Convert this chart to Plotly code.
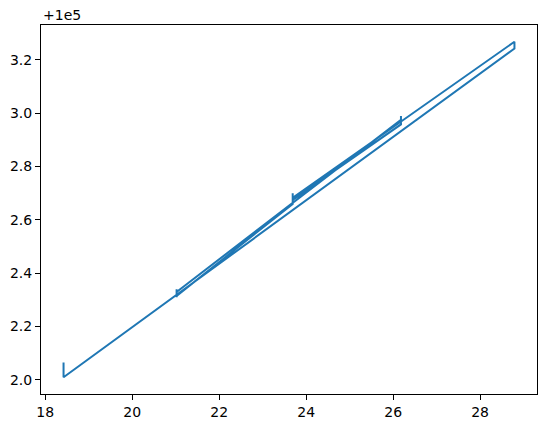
import plotly.graph_objects as go

# Path of the measured series (x, y); y is in absolute units (offset +1e5 shown on axis)
x_vals = [18.42, 18.42, 28.79, 28.79, 23.69, 23.69, 23.69, 21.02, 21.02, 21.02, 21.02, 26.18, 26.18, 26.18, 23.69]
y_vals = [100002.065, 100002.010, 100003.243, 100003.268, 100002.683, 100002.700, 100002.660,
          100002.315, 100002.340, 100002.310, 100002.330, 100002.975, 100002.990, 100002.958, 100002.675]

x_ticks = [18, 20, 22, 24, 26, 28]
y_ticks = [100002.0, 100002.2, 100002.4, 100002.6, 100002.8, 100003.0, 100003.2]
y_tick_labels = ["2.0", "2.2", "2.4", "2.6", "2.8", "3.0", "3.2"]
offset_label = "+1e5"

def padded(vals, frac=0.05):
    lo, hi = min(vals), max(vals)
    r = hi - lo
    return [lo - frac * r, hi + frac * r]

fig = go.Figure()
fig.add_trace(go.Scatter(x=x_vals, y=y_vals, mode="lines",
                         line=dict(color="#1f77b4", width=2), showlegend=False))

axis_common = dict(showgrid=False, zeroline=False, showline=True, linecolor="black",
                   linewidth=1, mirror=True, ticks="outside", ticklen=5, tickwidth=1,
                   tickcolor="black", automargin=False,
                   tickfont=dict(family="DejaVu Sans", size=14, color="black"))

fig.update_xaxes(range=padded(x_vals), tickvals=x_ticks, **axis_common)
fig.update_yaxes(range=padded(y_vals), tickvals=y_ticks, ticktext=y_tick_labels, **axis_common)

fig.add_annotation(text=offset_label, xref="paper", yref="paper", x=0, y=1,
                   xanchor="left", yanchor="bottom", showarrow=False, yshift=0,
                   font=dict(family="DejaVu Sans", size=14, color="black"))

# page body has an 8px default margin, so the figure is sized/margined to compensate
fig.update_layout(width=539, height=420, margin=dict(l=33, r=10, t=17, b=34, autoexpand=False),
                  plot_bgcolor="white", paper_bgcolor="white")

fig.write_html("out.html")
